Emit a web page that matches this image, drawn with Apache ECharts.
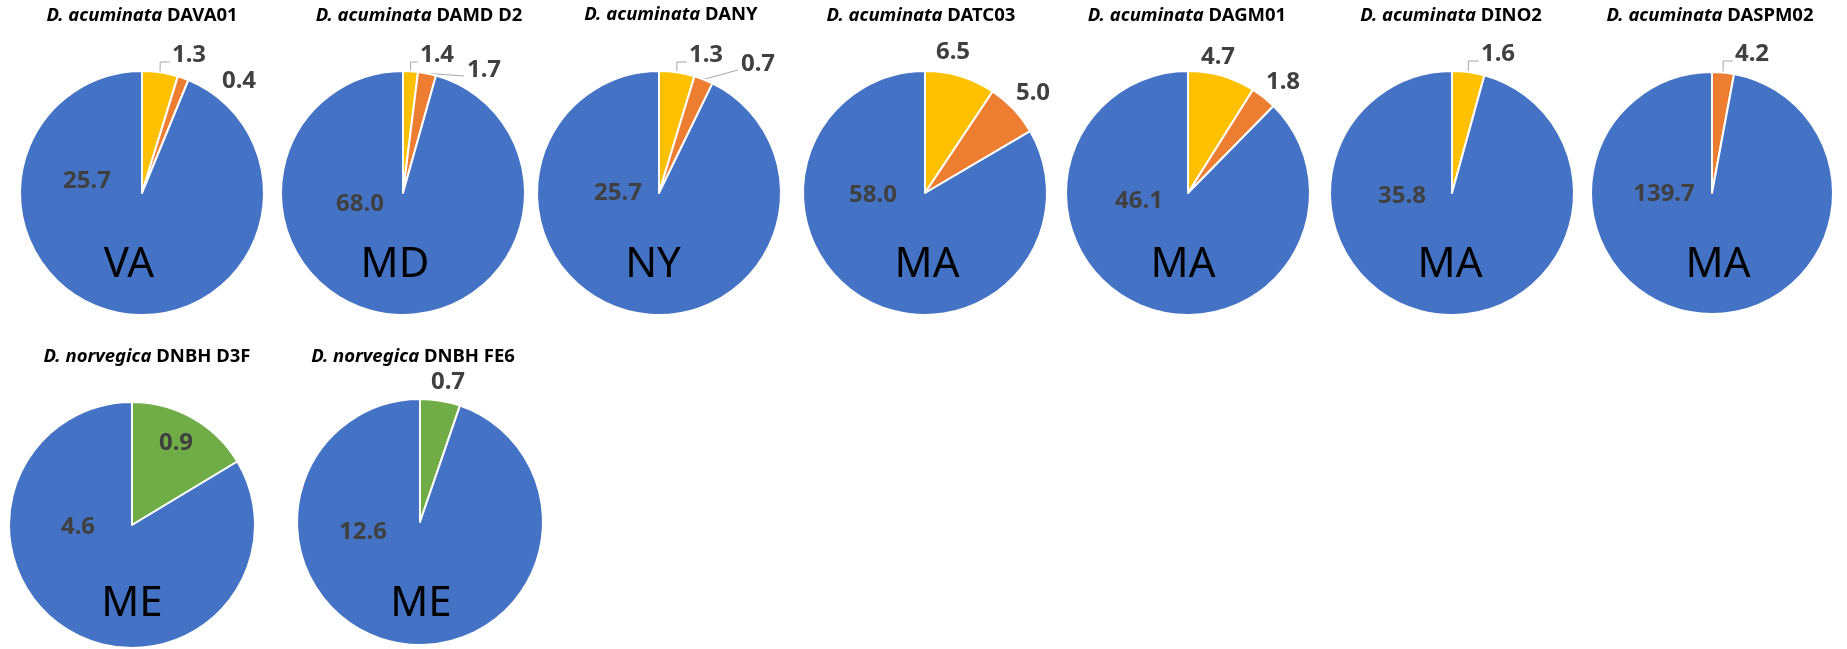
<!DOCTYPE html>
<html>
<head>
<meta charset="utf-8">
<script src="https://cdn.jsdelivr.net/npm/echarts@6/dist/echarts.min.js"></script>
<style>
  html, body { margin: 0; padding: 0; background: #fff; }
  #chart { width: 1847px; height: 649px; }
</style>
</head>
<body>
<div id="chart"></div>
<script>
// 数据
const species = ['D. acuminata', 'D. acuminata', 'D. acuminata', 'D. acuminata', 'D. acuminata',
                 'D. acuminata', 'D. acuminata', 'D. norvegica', 'D. norvegica'];
const samples = ['DAVA01', 'DAMD D2', 'DANY', 'DATC03', 'DAGM01', 'DINO2', 'DASPM02', 'DNBH D3F', 'DNBH FE6'];
const states = ['VA', 'MD', 'NY', 'MA', 'MA', 'MA', 'MA', 'ME', 'ME'];
const yellowVals = [1.3, 1.4, 1.3, 6.5, 4.7, 1.6, null, null, null];
const orangeVals = [0.4, 1.7, 0.7, 5.0, 1.8, null, 4.2, null, null];
const greenVals = [null, null, null, null, null, null, null, 0.9, 0.7];
const blueVals = [25.7, 68.0, 25.7, 58.0, 46.1, 35.8, 139.7, 4.6, 12.6];

// 布局 (px)
const pieCenters = [[142, 193], [403, 193], [659, 193], [925, 193], [1188, 193], [1452, 193], [1712, 193],
                    [132, 525], [420, 522]];
const pieRadius = [122, 122, 122, 122, 122, 122, 121, 123, 123];
const titlePos = [[142, 16], [419, 16], [671, 15], [921, 16], [1187, 16], [1451, 16], [1710, 16],
                  [147, 357], [413, 357]];
const statePos = [[129, 265], [395, 265], [653, 265], [927, 265], [1183, 265], [1450, 265], [1718, 265],
                  [132, 604], [421, 604]];
// 标签相对圆心的偏移，按扇区顺序；第三项是引导线类型
const labelOffsets = [
  [[47, -138, 'elbow'], [97, -112], [-55, -12]],
  [[34, -138, 'elbow'], [81, -123, 'straight'], [-43, 11]],
  [[47, -138, 'elbow'], [99, -129, 'straight'], [-41, 0]],
  [[28, -141], [108, -100], [-52, 2]],
  [[30, -136], [95, -111], [-49, 8]],
  [[46, -139, 'elbow'], [-50, 3]],
  [[40, -139, 'elbow'], [-48, 1]],
  [[44, -82], [-54, 2]],
  [[28, -140], [-57, 10]]
];

const COLORS = { yellow: '#FFC000', orange: '#ED7D31', green: '#70AD47', blue: '#4472C4' };
const FONT = '"Noto Sans", "Liberation Sans", sans-serif';

const chart = echarts.init(document.getElementById('chart'));

function pieData(i) {
  const groups = [['yellow', yellowVals], ['orange', orangeVals], ['green', greenVals], ['blue', blueVals]];
  const items = [];
  groups.forEach(g => {
    const v = g[1][i];
    if (v == null) return;
    items.push({ name: g[0], value: v, itemStyle: { color: COLORS[g[0]] } });
  });
  items.forEach((it, j) => {
    it.labelLine = { show: !!labelOffsets[i][j][2] };
  });
  return items;
}

// 扇区外弧中点
function arcMid(i, items, j) {
  const total = items.reduce((s, d) => s + d.value, 0);
  let before = 0;
  for (let k = 0; k < j; k++) before += items[k].value;
  const a = (before + items[j].value / 2) / total * Math.PI * 2;
  const c = pieCenters[i], r = pieRadius[i];
  return [c[0] + r * Math.sin(a), c[1] - r * Math.cos(a)];
}

const series = samples.map((s, i) => {
  const items = pieData(i);
  return {
    type: 'pie',
    center: pieCenters[i],
    radius: pieRadius[i],
    startAngle: 90,
    clockwise: true,
    avoidLabelOverlap: false,
    data: items,
    itemStyle: { borderColor: '#fff', borderWidth: 2 },
    label: {
      show: true,
      position: 'outside',
      formatter: p => p.value.toFixed(1),
      fontFamily: FONT,
      fontSize: 24,
      fontWeight: 'bold',
      color: '#404040'
    },
    labelLine: { lineStyle: { color: '#A6A6A6', width: 1 }, length: 8, length2: 8 },
    labelLayout: function (p) {
      const off = labelOffsets[i][p.dataIndex];
      const c = pieCenters[i];
      const x = c[0] + off[0], y = c[1] + off[1];
      const res = { x: x, y: y, align: 'center', verticalAlign: 'middle' };
      const w = p.labelRect.width;
      const p0 = arcMid(i, items, p.dataIndex);
      if (off[2] === 'elbow') {
        const ay = y + 7;
        res.labelLinePoints = [p0, [p0[0], ay], [x - w / 2 - 2, ay]];
      } else if (off[2] === 'straight') {
        const p2 = [x - w / 2 - 3, y + 6];
        res.labelLinePoints = [p0, [(p0[0] + p2[0]) / 2, (p0[1] + p2[1]) / 2], p2];
      }
      return res;
    },
    emphasis: { disabled: true }
  };
});

const titles = samples.map((s, i) => ({
  text: '{i|' + species[i] + '} ' + s,
  left: titlePos[i][0],
  top: titlePos[i][1],
  textAlign: 'center',
  textVerticalAlign: 'middle',
  padding: 0,
  textStyle: {
    fontFamily: FONT,
    fontSize: 18.5,
    fontWeight: 'bold',
    color: '#000',
    rich: { i: { fontFamily: FONT, fontSize: 18.5, fontWeight: 'bold', fontStyle: 'italic', color: '#000' } }
  }
}));

const stateTexts = states.map((s, i) => ({
  type: 'text',
  x: statePos[i][0],
  y: statePos[i][1],
  z: 100,
  style: {
    text: s,
    fontFamily: FONT,
    fontSize: 42,
    fill: '#000',
    align: 'center',
    verticalAlign: 'middle',
    textAlign: 'center',
    textVerticalAlign: 'middle'
  }
}));

chart.setOption({
  animation: false,
  backgroundColor: '#fff',
  title: titles,
  series: series,
  graphic: stateTexts
});
</script>
</body>
</html>
